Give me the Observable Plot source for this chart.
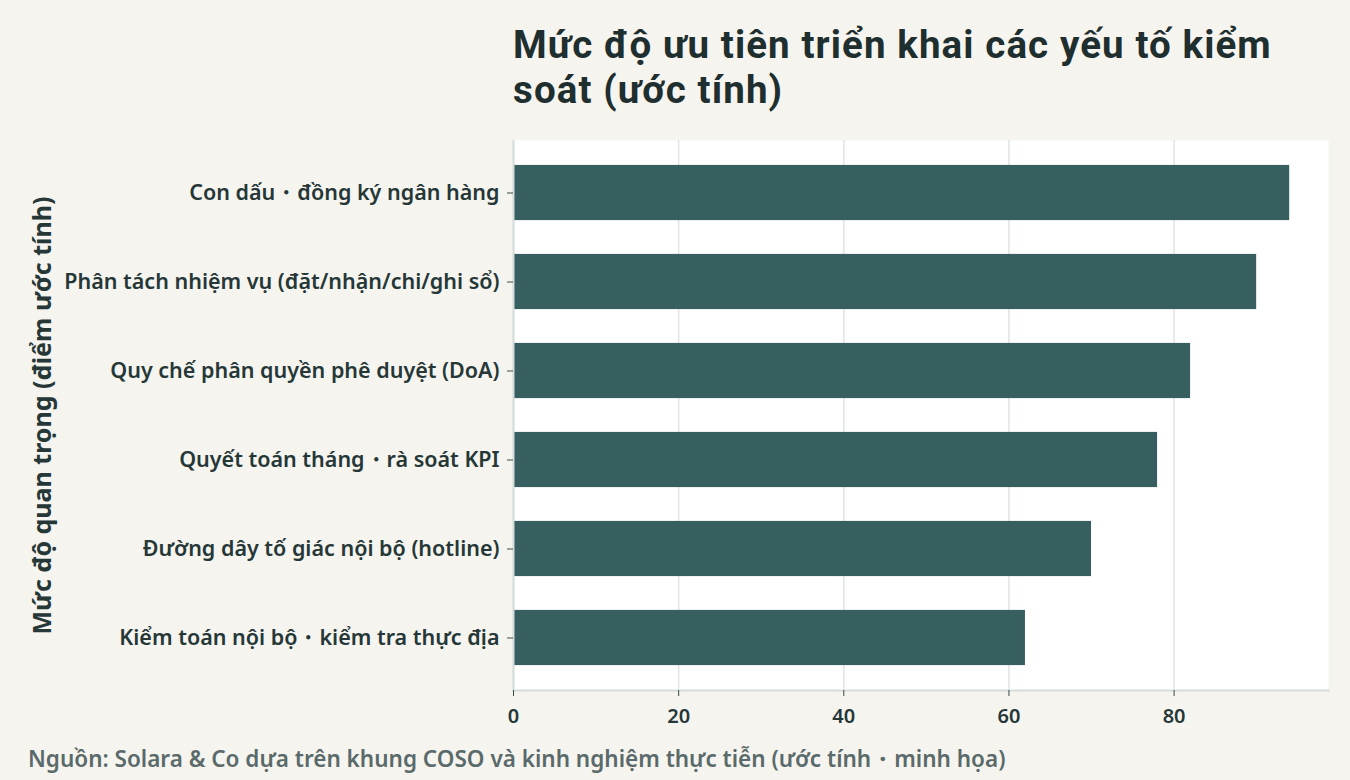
<!DOCTYPE html>
<html>
<head>
<meta charset="utf-8">
<script src="https://cdn.jsdelivr.net/npm/d3@7"></script>
<script src="https://cdn.jsdelivr.net/npm/@observablehq/plot@0.6"></script>
<style>
  html, body { margin: 0; padding: 0; background: #f5f4ef; }
  body { width: 1350px; height: 780px; overflow: hidden; font-family: "Noto Sans", sans-serif; }
  #title { box-sizing: border-box; height: 120px; padding: 22px 0 0 513px; color: #1f2e2e;
           font-family: Roboto, "Noto Sans", sans-serif;
           font-size: 38.5px; font-weight: 700; line-height: 45px; letter-spacing: 1.1px; white-space: nowrap; }
  #chart svg { display: block; }
  #caption { padding: 3px 0 0 28px; color: #5a6a6a; font-size: 22.5px; font-weight: 600; white-space: nowrap; }
</style>
</head>
<body>
<div id="title">Mức độ ưu tiên triển khai các yếu tố kiểm<br>soát (ước tính)</div>
<div id="chart"></div>
<div id="caption">Nguồn: Solara &amp; Co dựa trên khung COSO và kinh nghiệm thực tiễn (ước tính・minh họa)</div>
<script>
const categories = [
  "Con dấu・đồng ký ngân hàng",
  "Phân tách nhiệm vụ (đặt/nhận/chi/ghi sổ)",
  "Quy chế phân quyền phê duyệt (DoA)",
  "Quyết toán tháng・rà soát KPI",
  "Đường dây tố giác nội bộ (hotline)",
  "Kiểm toán nội bộ・kiểm tra thực địa"
];
const scores = [94, 90, 82, 78, 70, 62];
const xTicks = [0, 20, 40, 60, 80];
const yTitle = "Mức độ quan trọng (điểm ước tính)";

const data = categories.map((c, i) => ({category: c, score: scores[i]}));

const ink = "#263737";
const grid = "#dfe5e3";

const plot = Plot.plot({
  width: 1350,
  height: 620,
  marginTop: 20,
  marginBottom: 50,
  marginLeft: 513,
  marginRight: 22,
  style: {background: "transparent", fontFamily: "'Noto Sans', sans-serif", color: ink},
  x: {domain: [0, d3.max(scores) * 1.05], ticks: xTicks},
  y: {domain: categories, paddingInner: 0.38, paddingOuter: 0.28, round: false},
  marks: [
    Plot.frame({fill: "white", stroke: null}),
    Plot.gridX(xTicks, {stroke: grid, strokeOpacity: 1, strokeWidth: 1.5}),
    Plot.barX(data, {x: "score", y: "category", fill: "#385f60"}),
    Plot.ruleX([0], {stroke: "#d6dcdb", strokeWidth: 2}),
    Plot.frame({anchor: "bottom", stroke: "#d6dcdb", strokeWidth: 2}),
    Plot.axisX(xTicks, {tickSize: 6, tickPadding: 12, fontSize: 20, fontWeight: 600, stroke: "#3a4a4a", fill: ink, label: null}),
    Plot.axisY({tickSize: 6, tickPadding: 8, fontSize: 21.5, fontWeight: 600, stroke: "#3a4a4a", fill: ink, label: null}),
    Plot.text([yTitle], {frameAnchor: "left", rotate: -90, dx: -471, fontSize: 25, fontWeight: 700, fill: ink, textAnchor: "middle"})
  ]
});
document.getElementById("chart").appendChild(plot);
</script>
</body>
</html>
